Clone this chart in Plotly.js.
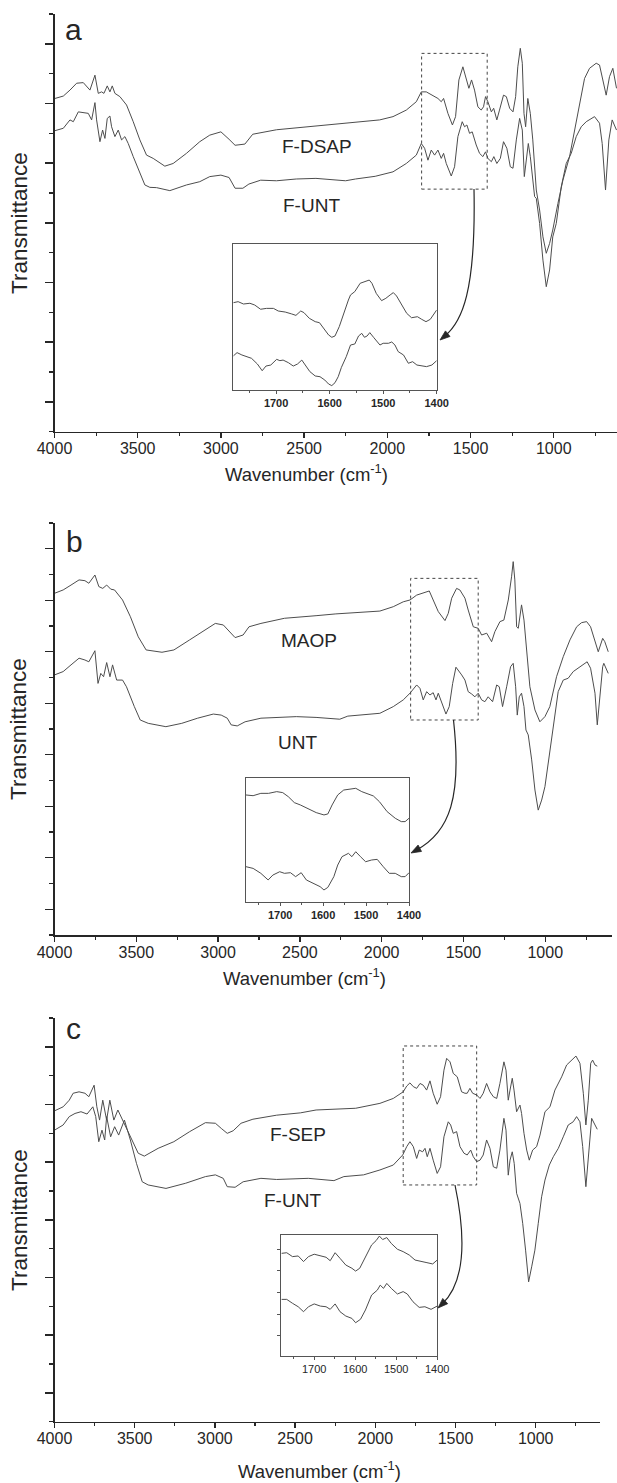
<!DOCTYPE html>
<html><head><meta charset="utf-8">
<script src="https://cdn.plot.ly/plotly-3.0.1.min.js"></script>
<style>html,body{margin:0;padding:0;background:#fff}#chart{width:617px;height:1483px}</style>
</head><body><div id="chart"></div>
<script>
// ---------- DATA (wavenumber cm-1, transmittance in arbitrary offset units) ----------
const aDSAP = [[3997,11.17],[3947,11.25],[3907,11.45],[3867,11.68],[3827,11.70],[3787,11.45],[3757,11.95],[3737,11.34],[3717,11.39],[3703,11.34],[3683,11.59],[3667,11.39],[3653,11.59],[3637,11.34],[3607,11.23],[3567,10.95],[3527,10.39],[3487,9.78],[3447,9.27],[3407,9.16],[3337,8.90],[3287,8.99],[3207,9.33],[3127,9.72],[3067,9.94],[3000,10.05],[2951,9.80],[2915,9.60],[2856,9.64],[2809,9.97],[2666,10.12],[2550,10.18],[2429,10.25],[2300,10.30],[2191,10.36],[2046,10.45],[1966,10.56],[1886,10.78],[1826,11.06],[1796,11.39],[1766,11.39],[1726,11.28],[1696,11.17],[1676,11.06],[1662,11.17],[1636,10.67],[1609,10.28],[1590,10.56],[1570,11.79],[1546,12.23],[1525,11.79],[1510,11.51],[1494,11.79],[1476,11.45],[1456,10.89],[1436,10.78],[1422,10.89],[1410,11.23],[1396,11.06],[1375,10.72],[1361,10.84],[1342,10.45],[1326,10.78],[1302,11.28],[1285,11.23],[1265,10.84],[1245,10.72],[1229,11.23],[1216,12.23],[1201,12.85],[1189,12.35],[1179,10.67],[1169,10.22],[1156,11.17],[1141,10.67],[1126,9.78],[1105,8.10],[1085,7.43],[1065,6.53],[1045,5.98],[1025,6.31],[1006,6.76],[975,7.65],[945,8.43],[905,9.22],[875,10.11],[845,11.01],[815,11.84],[785,12.18],[745,12.35],[725,12.29],[705,11.79],[685,11.28],[665,11.90],[645,12.18],[623,11.51]];
const aUNT = [[3997,10.09],[3947,10.17],[3907,10.45],[3887,10.39],[3857,10.72],[3827,10.69],[3797,10.67],[3777,10.45],[3757,11.03],[3747,10.45],[3727,9.72],[3711,10.11],[3697,9.83],[3683,10.50],[3667,10.58],[3657,10.22],[3637,9.89],[3617,10.11],[3597,9.78],[3577,9.89],[3557,9.66],[3527,9.22],[3487,8.66],[3457,8.27],[3427,8.19],[3387,8.18],[3307,8.08],[3207,8.27],[3127,8.38],[3067,8.55],[3000,8.60],[2951,8.52],[2915,8.16],[2868,8.16],[2832,8.30],[2761,8.43],[2666,8.41],[2547,8.47],[2429,8.49],[2251,8.41],[2191,8.47],[2073,8.56],[1966,8.71],[1886,8.99],[1826,9.27],[1796,9.66],[1776,9.50],[1756,9.10],[1736,9.44],[1716,9.27],[1696,9.44],[1676,9.16],[1662,9.33],[1646,8.99],[1616,8.57],[1596,8.88],[1576,9.89],[1550,10.39],[1536,10.22],[1522,10.28],[1506,10.00],[1490,10.05],[1466,9.61],[1446,9.33],[1426,9.22],[1410,9.38],[1396,9.16],[1375,9.05],[1360,9.22],[1342,8.99],[1321,9.16],[1302,9.72],[1282,9.50],[1261,8.88],[1245,8.83],[1225,9.78],[1205,10.50],[1189,10.11],[1177,8.55],[1165,9.05],[1153,9.66],[1141,9.22],[1126,8.32],[1115,7.88],[1105,7.82],[1085,6.98],[1065,5.75],[1045,4.86],[1025,5.42],[1006,6.53],[985,6.98],[955,8.21],[925,8.99],[895,9.33],[865,9.89],[835,10.22],[805,10.39],[755,10.56],[725,10.34],[709,9.66],[689,8.10],[669,9.78],[649,10.45],[623,10.11]];
const bMAOP = [[4000,13.27],[3947,13.40],[3899,13.59],[3850,13.79],[3814,13.76],[3790,13.66],[3753,13.98],[3729,13.53],[3705,13.46],[3681,13.59],[3656,13.43],[3633,13.40],[3584,13.01],[3536,12.36],[3488,11.58],[3440,11.07],[3343,10.98],[3270,11.07],[3174,11.46],[3077,11.84],[3017,12.10],[2968,12.04],[2920,11.72],[2896,11.55],[2847,11.65],[2811,11.97],[2738,12.10],[2594,12.30],[2401,12.40],[2280,12.47],[2011,12.58],[1929,12.75],[1868,12.94],[1827,13.01],[1786,13.20],[1746,13.27],[1709,13.36],[1685,13.01],[1654,12.56],[1613,12.21],[1593,12.49],[1572,13.08],[1542,13.46],[1522,13.40],[1491,13.08],[1471,12.62],[1440,11.97],[1410,11.91],[1389,11.65],[1358,11.72],[1328,11.39],[1308,11.78],[1277,12.17],[1253,12.23],[1226,13.01],[1206,13.91],[1196,14.50],[1186,13.79],[1175,11.97],[1165,11.91],[1145,12.82],[1130,12.23],[1114,10.94],[1094,9.64],[1063,8.74],[1033,8.28],[1002,8.48],[972,8.87],[931,10.03],[890,10.81],[849,11.46],[808,11.97],[778,12.13],[747,12.17],[723,11.97],[696,11.46],[676,11.00],[649,11.52],[636,11.39],[615,11.00]];
const bUNT = [[4000,10.10],[3947,10.23],[3899,10.49],[3850,10.75],[3814,10.68],[3790,10.61],[3753,11.04],[3734,9.77],[3717,10.16],[3700,10.03],[3681,10.58],[3661,10.03],[3645,10.49],[3620,9.90],[3584,9.90],[3560,9.64],[3512,8.87],[3476,8.35],[3427,8.22],[3319,8.09],[3222,8.22],[3125,8.42],[3029,8.58],[2981,8.54],[2944,8.42],[2920,8.16],[2883,8.12],[2835,8.28],[2738,8.42],[2642,8.45],[2522,8.48],[2401,8.45],[2256,8.38],[2207,8.50],[2111,8.54],[2011,8.61],[1929,8.87],[1868,9.13],[1827,9.39],[1786,9.71],[1766,9.58],[1746,9.13],[1725,9.45],[1705,9.32],[1685,9.41],[1668,9.13],[1654,9.39],[1633,9.00],[1607,8.58],[1587,8.87],[1566,9.77],[1546,10.40],[1532,10.29],[1511,10.10],[1491,9.90],[1471,9.45],[1450,9.36],[1430,9.25],[1410,9.39],[1389,9.13],[1369,9.06],[1349,9.25],[1322,9.06],[1297,9.71],[1281,9.64],[1261,8.87],[1236,9.64],[1212,10.42],[1196,10.55],[1181,9.64],[1171,8.54],[1159,9.25],[1145,9.39],[1130,8.87],[1118,7.96],[1104,7.77],[1083,6.80],[1063,5.63],[1043,4.85],[1022,5.24],[1002,5.76],[982,6.67],[961,7.70],[941,8.67],[921,9.45],[890,9.90],[860,9.97],[829,10.23],[799,10.36],[768,10.49],[744,10.61],[723,10.36],[696,9.39],[682,8.16],[666,9.25],[649,10.42],[642,10.55],[630,10.36],[615,10.16]];
const cSEP = [[4000,10.78],[3946,10.92],[3908,11.15],[3884,11.39],[3847,11.44],[3810,11.39],[3786,11.27],[3753,11.67],[3736,10.92],[3719,10.46],[3699,11.15],[3675,10.46],[3655,11.15],[3630,10.46],[3605,10.81],[3576,10.46],[3527,9.88],[3478,9.31],[3440,9.21],[3354,9.48],[3256,9.71],[3157,10.06],[3059,10.37],[2997,10.35],[2960,10.17],[2923,10.00],[2886,10.09],[2837,10.35],[2763,10.49],[2615,10.63],[2467,10.71],[2369,10.81],[2122,10.87],[1971,11.04],[1888,11.21],[1826,11.44],[1804,11.64],[1784,11.75],[1763,11.62],[1742,11.56],[1721,11.73],[1701,11.67],[1680,11.50],[1659,11.82],[1639,11.39],[1614,11.01],[1593,11.27],[1572,12.19],[1555,12.60],[1534,12.48],[1514,12.08],[1489,11.96],[1462,11.44],[1441,11.39],[1427,11.39],[1410,11.56],[1393,11.39],[1368,11.33],[1347,11.21],[1327,11.39],[1306,11.73],[1285,11.44],[1264,11.27],[1243,11.21],[1223,11.73],[1198,12.48],[1185,12.19],[1171,11.15],[1160,11.50],[1146,11.91],[1135,11.50],[1119,10.75],[1098,10.98],[1088,10.69],[1073,10.00],[1056,9.42],[1040,9.07],[1019,9.42],[994,9.54],[973,9.94],[942,10.75],[911,10.92],[880,11.50],[838,11.96],[807,12.37],[776,12.52],[749,12.68],[724,12.43],[703,11.39],[687,10.29],[672,11.15],[657,12.43],[645,12.54],[630,12.37],[616,12.33]];
const cUNT = [[4000,10.11],[3946,10.29],[3908,10.58],[3872,10.69],[3835,10.75],[3797,10.67],[3761,10.92],[3743,10.58],[3724,9.71],[3704,10.11],[3687,9.77],[3675,10.58],[3650,9.88],[3625,10.23],[3600,9.94],[3564,10.46],[3527,9.77],[3489,8.96],[3453,8.32],[3416,8.21],[3305,8.09],[3182,8.27],[3059,8.50],[2997,8.56],[2948,8.44],[2923,8.15],[2874,8.13],[2824,8.32],[2713,8.44],[2615,8.40],[2418,8.44],[2258,8.36],[2196,8.50],[2073,8.56],[1971,8.73],[1888,8.90],[1829,9.25],[1804,9.54],[1784,9.71],[1763,9.54],[1742,9.13],[1726,9.42],[1705,9.36],[1690,9.48],[1676,9.19],[1659,9.48],[1639,9.07],[1614,8.61],[1593,8.84],[1572,9.88],[1545,10.40],[1530,10.29],[1514,10.00],[1493,10.06],[1472,9.54],[1447,9.31],[1427,9.25],[1405,9.42],[1389,9.19],[1368,9.02],[1347,9.07],[1327,9.25],[1306,9.77],[1285,9.48],[1264,8.84],[1243,8.79],[1223,9.42],[1198,10.52],[1185,10.11],[1171,8.55],[1160,9.07],[1146,9.36],[1134,8.96],[1119,7.92],[1098,7.57],[1081,6.88],[1063,5.95],[1044,4.85],[1025,5.37],[1005,5.95],[984,6.88],[963,7.80],[942,8.38],[915,8.90],[890,9.19],[859,9.48],[828,9.88],[797,10.29],[766,10.40],[745,10.58],[724,10.40],[707,9.54],[687,8.15],[670,9.42],[651,10.52],[630,10.29],[616,10.14]];
// insets (1780-1400 cm-1)
const aInsetTop = [[1780,5.98],[1771,6.05],[1761,5.89],[1749,5.94],[1740,5.82],[1729,5.53],[1718,5.59],[1705,5.59],[1696,5.41],[1683,5.34],[1671,5.21],[1663,5.11],[1654,5.41],[1648,5.30],[1638,4.91],[1627,4.68],[1619,4.61],[1611,4.22],[1602,3.77],[1596,3.61],[1590,3.70],[1582,4.34],[1574,5.25],[1565,6.16],[1561,6.51],[1553,6.74],[1543,7.31],[1536,7.42],[1526,7.53],[1521,7.31],[1513,6.62],[1503,6.12],[1495,6.28],[1487,6.51],[1481,6.67],[1475,6.44],[1465,5.82],[1456,5.25],[1447,4.95],[1436,5.02],[1428,4.84],[1420,4.68],[1412,4.84],[1400,5.48]];
const aInsetBot = [[1780,2.33],[1773,2.56],[1764,2.40],[1755,2.28],[1746,2.17],[1735,1.78],[1726,1.32],[1719,1.64],[1710,1.71],[1699,2.10],[1693,2.01],[1687,2.05],[1677,1.87],[1668,1.64],[1660,1.78],[1652,2.05],[1644,1.64],[1637,1.26],[1627,0.96],[1618,0.91],[1609,0.68],[1602,0.41],[1596,0.30],[1590,0.50],[1584,0.91],[1578,1.55],[1569,2.28],[1561,3.08],[1553,3.15],[1546,3.70],[1540,3.88],[1535,3.61],[1530,3.70],[1525,3.93],[1518,3.61],[1512,3.31],[1506,3.08],[1500,3.20],[1490,3.20],[1484,3.29],[1478,3.08],[1472,2.63],[1462,2.40],[1453,1.83],[1445,1.94],[1437,1.71],[1428,1.64],[1419,1.60],[1409,1.71],[1400,2.01]];
const bInsetTop = [[1780,8.65],[1763,8.59],[1745,8.78],[1727,8.78],[1708,8.92],[1694,8.84],[1681,8.51],[1667,8.03],[1653,7.84],[1635,7.57],[1616,7.22],[1598,7.03],[1589,7.11],[1579,7.84],[1566,8.65],[1552,9.05],[1538,9.11],[1524,9.19],[1510,8.92],[1497,8.73],[1483,8.57],[1469,8.11],[1451,7.30],[1432,6.76],[1418,6.49],[1409,6.49],[1400,6.76]];
const bInsetBot = [[1780,2.84],[1763,2.70],[1745,2.30],[1728,1.76],[1717,2.16],[1701,2.43],[1690,2.30],[1676,2.35],[1664,2.03],[1651,2.35],[1639,1.76],[1621,1.49],[1607,1.22],[1598,0.95],[1589,1.16],[1575,2.03],[1566,2.97],[1556,3.65],[1547,3.78],[1541,3.92],[1533,3.65],[1524,4.05],[1513,3.65],[1501,3.24],[1487,3.38],[1474,3.43],[1460,2.84],[1446,2.30],[1432,2.30],[1418,2.03],[1409,2.03],[1400,2.35]];
const cInsetTop = [[1780,3.81],[1767,3.84],[1753,3.66],[1739,3.69],[1726,3.43],[1714,3.66],[1700,3.77],[1685,3.69],[1671,3.63],[1661,3.47],[1649,3.84],[1637,3.58],[1623,3.27],[1608,3.12],[1599,2.99],[1589,3.12],[1575,3.66],[1560,4.20],[1549,4.40],[1541,4.61],[1533,4.45],[1523,4.54],[1512,4.27],[1497,4.00],[1483,3.89],[1468,3.73],[1454,3.50],[1440,3.43],[1425,3.38],[1411,3.32],[1400,3.50]];
const cInsetBot = [[1780,1.68],[1767,1.68],[1753,1.50],[1739,1.34],[1726,1.11],[1714,1.34],[1700,1.47],[1685,1.37],[1671,1.34],[1661,1.22],[1649,1.47],[1637,1.11],[1623,0.91],[1608,0.80],[1599,0.60],[1587,0.76],[1575,1.19],[1560,1.88],[1546,2.11],[1539,2.34],[1531,2.19],[1523,2.42],[1512,2.19],[1497,1.93],[1483,2.04],[1473,1.93],[1459,1.57],[1444,1.31],[1430,1.34],[1415,1.22],[1400,1.37]];
const xTickLabels = ['4000','3500','3000','2500','2000','1500','1000'];
const insetTickLabels = ['1700','1600','1500','1400'];
const panelLetters = ['a','b','c'];
const seriesNames = [['F-DSAP','F-UNT'],['MAOP','UNT'],['F-SEP','F-UNT']];
// zoom boxes [wn from, wn to, value bottom, value top]
const boxes = [[1794,1400,8.13,12.68],[1823,1410,8.35,13.85],[1826,1368,8.21,13.03]];

// ---------- LAYOUT ----------
const W = 617, H = 1483;
const FONT = 'Liberation Sans, Arial, Helvetica, sans-serif';
const INK = '#262626', LINE = '#4d4d4d';
const fx = p => p / W, fy = p => 1 - p / H;
const xs = d => d.map(p => p[0]), ys = d => d.map(p => p[1]);

function mainX(l, r, top, bot, range, anchor) {
  return {domain: [fx(l), fx(r)], range, anchor, showline: true, linecolor: INK, linewidth: 1.5,
    ticks: 'outside', ticklen: 5, tickwidth: 1.4, tickcolor: INK, tickmode: 'array',
    tickvals: xTickLabels.map(Number), ticktext: xTickLabels, ticklabelstandoff: -3,
    tickfont: {family: FONT, size: 16, color: INK}, showgrid: false, zeroline: false,
    minor: {tickmode: 'linear', tick0: 250, dtick: 500, ticks: 'outside', ticklen: 3, tickwidth: 1.2, tickcolor: INK, showgrid: false}};
}
function mainY(top, bot, range, anchor) {
  return {domain: [fy(bot), fy(top)], range, anchor, showline: true, linecolor: INK, linewidth: 1.5,
    ticks: 'outside', ticklen: 8, tickwidth: 1.4, tickcolor: INK, tick0: 1, dtick: 2, showticklabels: false,
    showgrid: false, zeroline: false,
    minor: {tick0: 0, dtick: 1, ticks: 'outside', ticklen: 4, tickwidth: 1.2, tickcolor: INK, showgrid: false}};
}
function insetX(l, r, top, bot, anchor, bold) {
  return {domain: [fx(l), fx(r)], range: [1780, 1400], anchor, showline: true, mirror: true, linecolor: '#555', linewidth: 1,
    ticks: 'outside', ticklen: 3, tickwidth: 1, tickcolor: '#555', tickmode: 'array',
    tickvals: insetTickLabels.map(Number), ticktext: insetTickLabels,
    tickfont: {family: FONT, size: 11, color: INK, weight: bold ? 'bold' : 'normal'}, showgrid: false, zeroline: false,
    minor: {tickmode: 'linear', tick0: 1450, dtick: 100, ticks: 'outside', ticklen: 2, tickcolor: '#555', showgrid: false}};
}
function insetY(top, bot, range, anchor, withTicks) {
  return {domain: [fy(bot), fy(top)], range, anchor, showline: true, mirror: true, linecolor: '#555', linewidth: 1,
    ticks: withTicks ? 'outside' : '', ticklen: 3, tickcolor: '#555', dtick: 1, tick0: 0, showticklabels: false,
    showgrid: false, zeroline: false};
}

const layout = {
  width: W, height: H, margin: {l: 0, r: 0, t: 0, b: 0}, paper_bgcolor: '#fff', plot_bgcolor: 'rgba(0,0,0,0)',
  showlegend: false, font: {family: FONT, color: INK},
  xaxis: mainX(54.5, 617, 14, 431.7, [4000, 620], 'y'),
  yaxis: mainY(14, 431.7, [0, 14], 'x'),
  xaxis2: mainX(54.5, 612, 523, 935, [4000, 592], 'y2'),
  yaxis2: mainY(523, 935, [0, 16], 'x2'),
  xaxis3: mainX(54.5, 600, 1018, 1421.7, [4000, 599], 'y3'),
  yaxis3: mainY(1018, 1421.7, [0, 14], 'x3'),
  xaxis4: insetX(233.3, 436.7, 244, 390, 'y4', true),
  yaxis4: insetY(244, 390, [0, 10], 'x4', false),
  xaxis5: insetX(245.8, 409, 778.3, 901.7, 'y5', true),
  yaxis5: insetY(778.3, 901.7, [0, 10], 'x5', false),
  xaxis6: insetX(281.4, 437.2, 1235, 1356, 'y6', false),
  yaxis6: insetY(1235, 1356, [-0.94, 4.66], 'x6', true),
  shapes: [], annotations: []
};

// traces
const tr = (d, xa, ya) => ({x: xs(d), y: ys(d), xaxis: xa, yaxis: ya, type: 'scatter', mode: 'lines',
  line: {color: LINE, width: 1}, hoverinfo: 'skip'});
const data = [
  tr(aDSAP, 'x', 'y'), tr(aUNT, 'x', 'y'),
  tr(bMAOP, 'x2', 'y2'), tr(bUNT, 'x2', 'y2'),
  tr(cSEP, 'x3', 'y3'), tr(cUNT, 'x3', 'y3'),
  tr(aInsetTop, 'x4', 'y4'), tr(aInsetBot, 'x4', 'y4'),
  tr(bInsetTop, 'x5', 'y5'), tr(bInsetBot, 'x5', 'y5'),
  tr(cInsetTop, 'x6', 'y6'), tr(cInsetBot, 'x6', 'y6')
];

// dotted zoom boxes
const refs = [['x', 'y'], ['x2', 'y2'], ['x3', 'y3']];
boxes.forEach((b, i) => layout.shapes.push({type: 'rect', xref: refs[i][0], yref: refs[i][1],
  x0: b[0], x1: b[1], y0: b[2], y1: b[3], line: {color: '#444', width: 1, dash: 'dot'}}));

// curved arrows (page pixel guide points)
const arrows = [
  [[474, 189], [476, 292], [462, 322], [440, 340]],
  [[453.5, 720], [462, 797], [450, 832], [411, 853]],
  [[455, 1185], [468, 1247], [462, 1285], [438, 1308]]
];
arrows.forEach(a => {
  const P = q => `${fx(q[0])},${fy(q[1])}`;
  const [p0, p1, p2, p3] = a;
  let dx = p3[0] - p2[0], dy = p3[1] - p2[1]; const L = Math.hypot(dx, dy); dx /= L; dy /= L;
  const bx = p3[0] - dx * 10, by = p3[1] - dy * 10, nx = -dy * 3.6, ny = dx * 3.6;
  const end = [p3[0] - dx * 6, p3[1] - dy * 6];
  layout.shapes.push({type: 'path', xref: 'paper', yref: 'paper',
    path: `M ${P(p0)} C ${P(p1)} ${P(p2)} ${P(end)}`, line: {color: INK, width: 1.2}});
  layout.shapes.push({type: 'path', xref: 'paper', yref: 'paper', fillcolor: INK,
    path: `M ${P(p3)} L ${P([bx + nx, by + ny])} L ${P([bx - nx, by - ny])} Z`, line: {color: INK, width: 0.8}});
});

// text
const ann = (text, x, y, size, extra) => layout.annotations.push(Object.assign({text, x: fx(x), y: fy(y),
  xref: 'paper', yref: 'paper', showarrow: false, xanchor: 'center', yanchor: 'middle',
  font: {family: FONT, size, color: INK}}, extra || {}));
const letterPos = [[73, 29], [74, 541], [73, 1028]];
panelLetters.forEach((t, i) => ann(t, letterPos[i][0], letterPos[i][1], 30));
const namePos = [[[317, 146], [312, 206]], [[309, 640], [297, 742]], [[297.5, 1134], [292.5, 1200]]];
seriesNames.forEach((pair, i) => pair.forEach((t, j) => ann(t, namePos[i][j][0], namePos[i][j][1], 19)));
const titleX = [[306, 473], [304, 977], [319, 1470]];
titleX.forEach(p => ann('Wavenumber (cm<sup>-1</sup>)', p[0], p[1], 18.5));
const titleY = [223, 729, 1220];
titleY.forEach(y => ann('Transmittance', 19, y, 22.5, {textangle: -90}));

Plotly.newPlot('chart', data, layout, {staticPlot: true, displayModeBar: false});
</script></body></html>
